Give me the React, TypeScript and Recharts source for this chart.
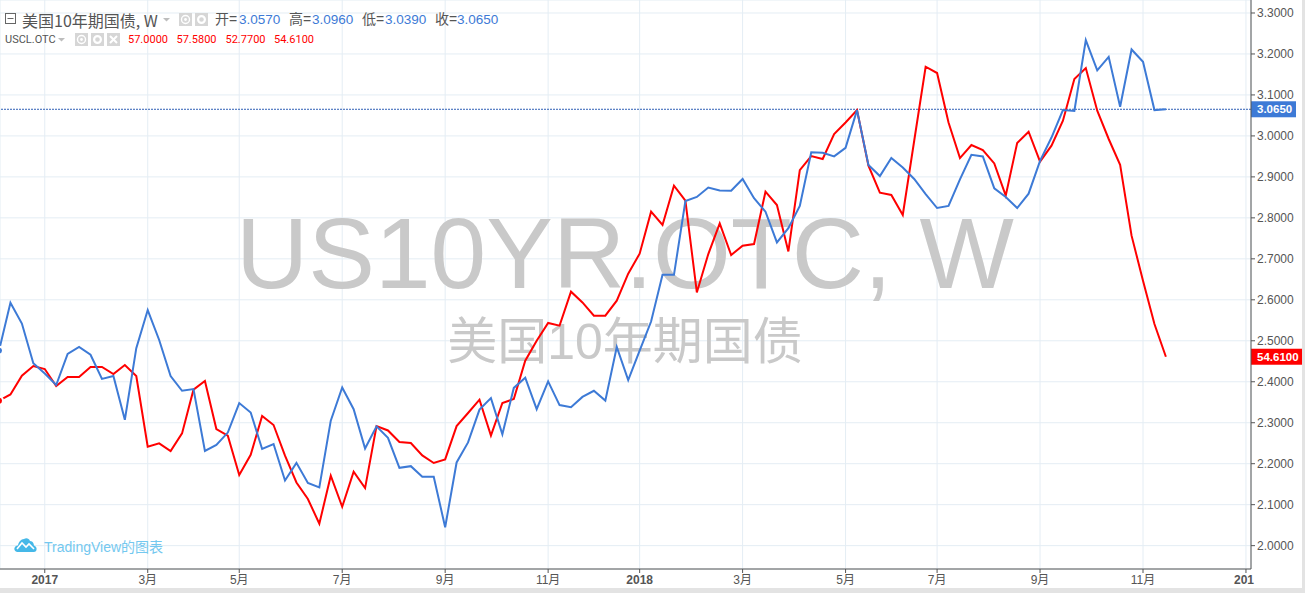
import React from 'react';
import { LineChart, Line, XAxis, YAxis, CartesianGrid, ReferenceLine, Customized } from 'recharts';

const bond = [2.476,2.593,2.542,2.445,2.42,2.392,2.468,2.485,2.466,2.407,2.414,2.307,2.482,2.575,2.502,2.414,2.378,2.382,2.231,2.246,2.276,2.348,2.325,2.236,2.248,2.159,2.202,2.153,2.142,2.305,2.386,2.333,2.237,2.291,2.263,2.19,2.194,2.168,2.168,2.045,2.203,2.252,2.332,2.36,2.272,2.385,2.41,2.333,2.401,2.343,2.338,2.363,2.378,2.354,2.485,2.404,2.476,2.547,2.661,2.661,2.841,2.851,2.874,2.867,2.866,2.895,2.848,2.815,2.74,2.775,2.829,2.96,2.959,2.95,2.971,3.063,2.929,2.902,2.946,2.923,2.895,2.858,2.824,2.829,2.894,2.954,2.95,2.872,2.851,2.824,2.859,2.939,2.996,3.063,3.061,3.234,3.16,3.193,3.071,3.211,3.181,3.063,3.065];
const crude = [51.31,51.78,53.19,53.91,53.69,52.41,53.09,53.09,53.84,53.84,53.31,53.99,53.16,47.86,48.11,47.54,48.86,52.14,52.79,49.19,48.69,45.74,47.26,50.16,49.49,47.19,45.18,43.94,42.09,45.69,43.36,45.99,44.76,49.41,49.08,48.21,48.14,47.21,46.64,46.91,49.41,50.39,51.39,48.69,51.14,51.44,54.31,55.81,57.14,56.94,59.49,58.68,57.69,57.69,58.81,60.84,62.34,65.49,64.49,67.44,66.31,59.43,62.31,64.61,62.24,62.94,63.06,66.99,65.99,62.51,68.61,69.66,69.44,71.31,72.18,73.11,68.94,66.91,66.74,65.24,70.81,76.36,75.89,72.18,69.51,70.49,70.11,69.11,66.69,70.64,71.49,69.24,70.44,72.31,75.44,76.26,73.06,70.94,69.0,63.69,60.31,57.06,54.61];
const yTicks = [2.0,2.1,2.2,2.3,2.4,2.5,2.6,2.7,2.8,2.9,3.0,3.1,3.2,3.3];
const xTickIndex = [4,13,21,30,39,48,56,65,74,82,91,100,109];
const xTickLabels = ['2017','3月','5月','7月','9月','11月','2018','3月','5月','7月','9月','11月','201'];
const boldLabels = ['2017','2018','201'];
const bondOHLC = [['开=','3.0570'],['高=','3.0960'],['低=','3.0390'],['收=','3.0650']];
const crudeOHLC = ['57.0000','57.5800','52.7700','54.6100'];
const lastBond = 3.065;
const lastCrude = 54.61;

const data = bond.map((b, i) => ({ i, bond: b, crude: crude[i] }));

const BLUE = '#3d7ad6';
const RED = '#ff0000';
const GRID = '#e4edf4';
const AXIS = '#555555';
const SANS = '"Liberation Sans", Arial, sans-serif';
const CJK = '"Liberation Sans", "Noto Sans CJK SC", sans-serif';

const abs = (left: number, top: number, extra: React.CSSProperties = {}): React.CSSProperties => ({
  position: 'absolute', left, top, whiteSpace: 'nowrap', lineHeight: 1, ...extra,
});

function Icon({ left, top, kind }: { left: number; top: number; kind: 'eye' | 'gear' | 'x' }) {
  return (
    <svg style={{ position: 'absolute', left, top }} width={13} height={13}>
      <rect width={13} height={13} fill="#d6d6d6" />
      {kind === 'eye' && <><circle cx={6.5} cy={6.5} r={4} fill="none" stroke="#fff" strokeWidth={1.4} /><circle cx={6.5} cy={6.5} r={1.4} fill="#fff" /></>}
      {kind === 'gear' && <circle cx={6.5} cy={6.5} r={3.4} fill="none" stroke="#fff" strokeWidth={2.2} />}
      {kind === 'x' && <path d="M3 3L10 10M10 3L3 10" stroke="#fff" strokeWidth={2} />}
    </svg>
  );
}

function Caret({ left, top }: { left: number; top: number }) {
  return (
    <svg style={{ position: 'absolute', left, top }} width={8} height={4}>
      <path d="M0 0H7L3.5 3.5Z" fill="#bdbdbd" />
    </svg>
  );
}

function XTick(props: any) {
  const { x, y, payload } = props;
  const label = xTickLabels[xTickIndex.indexOf(payload.value)];
  const clipped = label === '201';
  return (
    <text x={clipped ? x - 12 : x} y={y + 9} textAnchor={clipped ? 'start' : 'middle'} fontSize={12}
      fontFamily={CJK} fontWeight={boldLabels.includes(label) ? 700 : 400} fill={AXIS}>
      {label}
    </text>
  );
}

function Badge({ viewBox, text, color, w }: any) {
  const x = viewBox.x + viewBox.width;
  const y = viewBox.y;
  return (
    <g>
      <rect x={x} y={y - 8} width={w} height={16} fill={color} />
      <text x={x + 6} y={y + 4} fontSize={11.5} fontWeight={700} fontFamily={SANS} fill="#fff">{text}</text>
    </g>
  );
}

const Watermark = () => (
  <g fill="#c9c9c9">
    <text x={625} y={288} textAnchor="middle" fontSize={100} fontFamily={SANS}>US10YR.OTC, W</text>
    <text x={625} y={359} textAnchor="middle" fontSize={50} fontFamily={CJK}>美国10年期国债</text>
  </g>
);

export default function App() {
  return (
    <div style={{ position: 'absolute', left: 0, top: 0, width: 1305, height: 593, background: '#fff', overflow: 'hidden', fontFamily: SANS }}>
      <LineChart width={1302} height={588} data={data} margin={{ top: 0, right: 0, bottom: 0, left: 0 }}>
        <CartesianGrid xAxisId="x" yAxisId="left" stroke={GRID} strokeWidth={1} />
        <XAxis xAxisId="x" dataKey="i" type="number" domain={[0.087, 109.44]} allowDataOverflow ticks={xTickIndex} interval={0}
          height={19} stroke={AXIS} tickSize={4} tick={<XTick />} />
        <YAxis yAxisId="left" orientation="right" type="number" domain={[1.943, 3.3317]} ticks={yTicks} interval={0} width={51}
          stroke={AXIS} tickSize={4} tickFormatter={(v: number) => v.toFixed(4)}
          tick={{ fontSize: 12, fontFamily: SANS, fill: AXIS }} />
        <YAxis yAxisId="right" hide type="number" domain={[38.69, 81.365]} />
        <Customized component={Watermark} />
        <ReferenceLine xAxisId="x" yAxisId="left" y={lastBond} stroke="#2f5fb5" strokeDasharray="2 1"
          label={{ content: (p: any) => <Badge viewBox={p.viewBox} text={lastBond.toFixed(4)} color={BLUE} w={45} /> }} />
        <ReferenceLine xAxisId="x" yAxisId="right" y={lastCrude} stroke="none"
          label={{ content: (p: any) => <Badge viewBox={p.viewBox} text={lastCrude.toFixed(4)} color={RED} w={51} /> }} />
        <Line xAxisId="x" yAxisId="right" dataKey="crude" stroke={RED} strokeWidth={2} dot={false} isAnimationActive={false} />
        <Line xAxisId="x" yAxisId="left" dataKey="bond" stroke={BLUE} strokeWidth={2} dot={false} isAnimationActive={false} />
      </LineChart>

      <svg style={{ position: 'absolute', left: 5, top: 13 }} width={12} height={12}>
        <rect x={0.5} y={0.5} width={10} height={10} fill="none" stroke="#666" />
        <path d="M2.5 5.5H8.5" stroke="#666" />
      </svg>
      <div style={abs(22, 12, { fontSize: 16, color: '#555', fontFamily: '"Noto Sans CJK SC", sans-serif' })}>美国10年期国债, W</div>
      <Caret left={163} top={18} />
      <Icon left={179} top={13} kind="eye" />
      <Icon left={195} top={13} kind="gear" />
      {bondOHLC.map(([k, v], n) => (
        <React.Fragment key={k}>
          <div style={abs([215, 289, 362, 435][n], 12, { fontSize: 14, color: '#555', fontFamily: CJK })}>{k}</div>
          <div style={abs([239, 312, 385, 457][n], 13, { fontSize: 13.5, color: BLUE })}>{v}</div>
        </React.Fragment>
      ))}
      <div style={abs(5, 34, { fontSize: 11, color: '#555', fontFamily: 'Roboto, sans-serif' })}>USCL.OTC</div>
      <Caret left={58} top={38} />
      <Icon left={75} top={33} kind="eye" />
      <Icon left={91} top={33} kind="gear" />
      <Icon left={107} top={33} kind="x" />
      {crudeOHLC.map((v, n) => (
        <div key={n} style={abs([128, 176.5, 225.5, 274][n], 34, { fontSize: 11, color: RED, fontFamily: 'Roboto, sans-serif' })}>{v}</div>
      ))}

      <svg style={{ position: 'absolute', left: 14, top: 537 }} width={23} height={16}>
        <path d="M4 15C1 15 0 12.5 0.5 11C1 9 3 8.5 4 8.5C4.5 5 7 2 10 2C12 0.5 15 1 16 4C19 4 20 7 20 8.5C22 9 23 11 22.5 13C22 15 20 15 19 15Z" fill="#45b8e8" />
        <path d="M3 12L8 6L12 10L15 7L20 12" fill="none" stroke="#fff" strokeWidth={1.6} />
      </svg>
      <div style={abs(44, 540, { fontSize: 14, color: '#74c8ef', fontFamily: CJK })}>TradingView的图表</div>

      <div style={{ position: 'absolute', left: 0, top: 588, width: 1305, height: 5, background: '#e3e3e3' }} />
      <div style={{ position: 'absolute', left: 1302, top: 0, width: 3, height: 593, background: '#e3e3e3' }} />
    </div>
  );
}
